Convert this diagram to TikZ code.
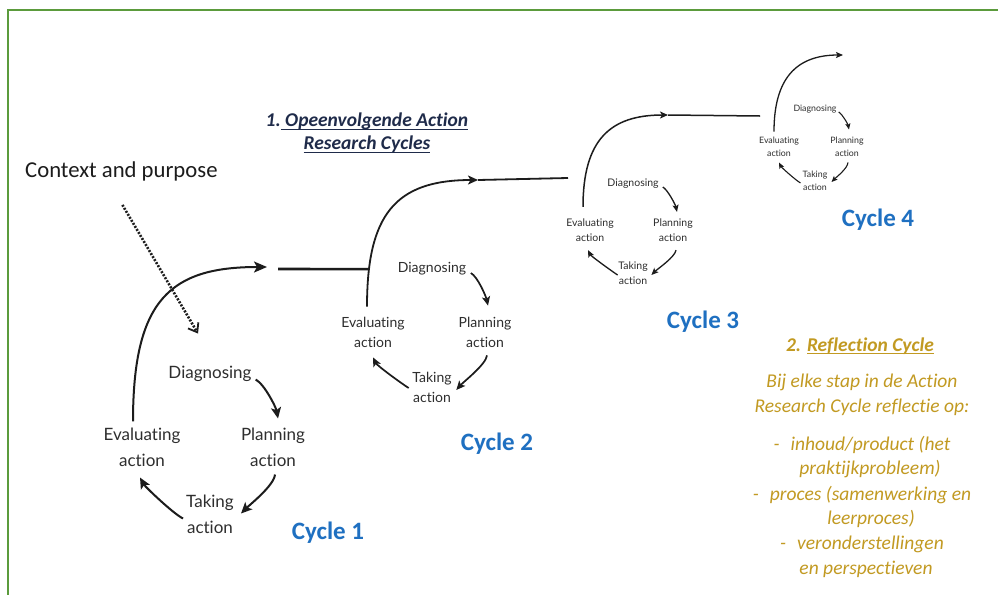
\documentclass[tikz,border=0pt]{standalone}
\usepackage{fontspec}
\setmainfont[Ligatures=NoCommon]{Carlito}
\newfontfamily\stepfont[Ligatures={NoCommon,NoDiscretionary}]{Lato}
\usetikzlibrary{arrows.meta}

\definecolor{framegreen}{HTML}{5B9B3C}
\definecolor{ink}{HTML}{1C1C1C}
\definecolor{steptext}{HTML}{2E2E2E}
\definecolor{cycblue}{HTML}{1F70C1}
\definecolor{navy}{HTML}{1F2B4A}
\definecolor{gold}{HTML}{C29A22}

% underline drawn just below the baseline, crossing the descenders
\newcommand{\ulpart}[1]{\sbox0{#1}\rlap{\rule[-0.16em]{\wd0}{0.07em}}\usebox0}

\tikzset{
  stepA/.style={font=\stepfont\fontsize{17}{26}\selectfont, text=steptext, align=center, inner sep=1pt},
  stepB/.style={font=\stepfont\fontsize{14}{20}\selectfont, text=steptext, align=center, inner sep=1pt},
  stepC/.style={font=\stepfont\fontsize{10.5}{15}\selectfont, text=steptext, align=center, inner sep=1pt},
  stepD/.style={font=\stepfont\fontsize{8.8}{13}\selectfont, text=steptext, align=center, inner sep=1pt},
  flowA/.style={draw=ink, line width=2pt, -{Stealth[length=11pt,width=10pt,inset=2.5pt]}},
  flowB/.style={draw=ink, line width=1.7pt, -{Stealth[length=9pt,width=8pt,inset=2pt]}},
  flowC/.style={draw=ink, line width=1.3pt, -{Stealth[length=7pt,width=6pt,inset=1.5pt]}},
  flowD/.style={draw=ink, line width=1.1pt, -{Stealth[length=6pt,width=5pt,inset=1.2pt]}},
  leapA/.style={draw=ink, line width=2pt, -{Stealth[length=13pt,width=11pt,inset=3pt]}},
  leapB/.style={draw=ink, line width=1.8pt, -{Stealth[length=10pt,width=9pt,inset=2.5pt]}},
  leapC/.style={draw=ink, line width=1.5pt, -{Stealth[length=8pt,width=7pt,inset=2pt]}},
  leapD/.style={draw=ink, line width=1.3pt, -{Stealth[length=7pt,width=6pt,inset=1.5pt]}},
  joinA/.style={draw=ink, line width=2.6pt},
  joinB/.style={draw=ink, line width=1.8pt},
  joinC/.style={draw=ink, line width=1.5pt},
  cyclabel/.style={font=\bfseries\fontsize{25}{30}\selectfont, text=cycblue, inner sep=0pt},
  headline/.style={font=\bfseries\itshape\fontsize{19.5}{23}\selectfont, align=center, inner sep=0pt},
  refltext/.style={font=\itshape\fontsize{19.5}{24.5}\selectfont, text=gold, align=center, inner sep=0pt},
}

\begin{document}
\begin{tikzpicture}[x=1pt, y=-1pt]
  \useasboundingbox (0,0) rectangle (998,595);
  \fill[white] (0,0) rectangle (998,595);

  % frame along the top and left edges
  \draw[framegreen, line width=2pt] (998,10) -- (8,10) -- (8,595);

  % heading of the left part
  \node[headline, text=navy] (ttl) at (367,133)
    {1.\ulpart{ Opeenvolgende Action}\\\ulpart{Research Cycles}};

  % starting point
  \node[anchor=west, font=\fontsize{22.7}{27}\selectfont, text=ink, inner sep=0pt] (ctx) at (25,171) {Context and purpose};

  % ---------------- cycle 1 ----------------
  \node[stepA] (d1) at (210,373.5) {Diagnosing};
  \node[stepA] (p1) at (273,447) {Planning\\action};
  \node[stepA] (t1) at (210,514.5) {Taking\\action};
  \node[stepA] (e1) at (142,447) {Evaluating\\action};
  \draw[flowA] ([shift={(3,6)}]d1.east) .. controls +(9,5) and +(-2,-11) .. ([shift={(5,-8)}]p1.north);
  \draw[flowA] ([shift={(2,7)}]p1.south) .. controls +(-1,11) and +(9,-9) .. ([shift={(6,-1)}]t1.east);
  \draw[flowA] ([shift={(-2,4)}]t1.west) .. controls +(-10,-5) and +(5,9) .. ([shift={(-2,10)}]e1.south);
  \node[cyclabel] (c1) at (328,533) {Cycle 1};

  % dotted entry arrow
  \draw[ink, line width=2.6pt, dash pattern=on 2pt off 1.5pt,
        -{Straight Barb[length=8pt,width=12pt,line width=1.8pt]}]
    ([shift={(1,24)}]ctx.south) -- ([shift={(-12,-31)}]d1.north);

  % ---------------- cycle 2 ----------------
  \node[stepB] (d2) at (432,269) {Diagnosing};
  \node[stepB] (p2) at (485,332) {Planning\\action};
  \node[stepB] (t2) at (432,387) {Taking\\action};
  \node[stepB] (e2) at (373,332) {Evaluating\\action};
  \draw[flowB] ([shift={(3.5,4)}]d2.east) .. controls +(7,4) and +(-2,-9) .. ([shift={(3,-10)}]p2.north);
  \draw[flowB] ([shift={(2,7)}]p2.south) .. controls +(-1,9) and +(7,-8) .. ([shift={(3.5,3)}]t2.east);
  \draw[flowB] ([shift={(-2.5,1)}]t2.west) .. controls +(-8,-5) and +(4,8) .. ([shift={(0,9)}]e2.south);
  \node[cyclabel] (c2) at (497,444) {Cycle 2};

  % ---------------- cycle 3 ----------------
  \node[stepC] (d3) at (633,184) {Diagnosing};
  \node[stepC] (p3) at (673,230.5) {Planning\\action};
  \node[stepC] (t3) at (633,273.5) {Taking\\action};
  \node[stepC] (e3) at (590,230.5) {Evaluating\\action};
  \draw[flowC] ([shift={(3,3)}]d3.east) .. controls +(5,3) and +(-1.5,-7) .. ([shift={(4,-6)}]p3.north);
  \draw[flowC] ([shift={(3,7)}]p3.south) .. controls +(-1,7) and +(6,-6) .. ([shift={(2.5,1.5)}]t3.east);
  \draw[flowC] ([shift={(0.5,1.5)}]t3.west) .. controls +(-6,-4) and +(3,6) .. ([shift={(-2,7)}]e3.south);
  \node[cyclabel] (c3) at (703,322) {Cycle 3};

  % ---------------- cycle 4 ----------------
  \node[stepD] (d4) at (815,109.5) {Diagnosing};
  \node[stepD] (p4) at (847,146.5) {Planning\\action};
  \node[stepD] (t4) at (815,181) {Taking\\action};
  \node[stepD] (e4) at (779,146.5) {Evaluating\\action};
  \draw[flowD] ([shift={(1,2.5)}]d4.east) .. controls +(4,2.5) and +(-1,-5) .. ([shift={(2,-6)}]p4.north);
  \draw[flowD] ([shift={(1,5)}]p4.south) .. controls +(-0.5,6) and +(5,-5) .. ([shift={(3,1)}]t4.east);
  \draw[flowD] ([shift={(-1,2)}]t4.west) .. controls +(-5,-3) and +(2.5,5) .. ([shift={(0,5)}]e4.south);
  \node[cyclabel] (c4) at (878,220) {Cycle 4};

  % ---------------- leaps from one cycle to the next ----------------
  \coordinate (a1) at (267,267);
  \coordinate (j1) at (278,269);
  \coordinate (a2) at (478,180);
  \coordinate (f2) at (568,178);
  \coordinate (a3) at (668,115);
  \coordinate (f3) at (760,116);
  \coordinate (a4) at (843,55);

  \draw[leapA] ([shift={(-9,-5)}]e1.north) .. controls (133,300) and (170,267) .. (a1);
  \draw[leapB] ([shift={(-6,-9)}]e2.north) .. controls (367,215) and (395,180) .. (a2)
    coordinate[pos=0.15] (m2);
  \draw[joinA] (j1) -- (m2);
  \draw[joinB] (a2) -- (f2);
  \draw[leapC] ([shift={(-7,-11)}]e3.north) .. controls (583,140) and (610,115) .. (a3);
  \draw[joinC] (a3) -- (f3);
  \draw[leapD] ([shift={(-5,-4)}]e4.north) .. controls (774,80) and (795,55) .. (a4);

  % ---------------- reflection part ----------------
  \node[headline, text=gold] (rh) at (860,346) {2. \ulpart{Reflection Cycle}};
  \node[refltext] (rb) at (862,395) {Bij elke stap in de Action\\Research Cycle reflectie op:};
  \node[refltext] (r1) at (862,457) {-\hspace{11pt}inhoud/product (het\\\hspace*{16pt}praktijkprobleem)};
  \node[refltext] (r2) at (862,507) {-\hspace{11pt}proces (samenwerking en\\\hspace*{18pt}leerproces)};
  \node[refltext] (r3) at (862,557) {-\hspace{11pt}veronderstellingen\\\hspace*{8pt}en perspectieven};
\end{tikzpicture}
\end{document}
